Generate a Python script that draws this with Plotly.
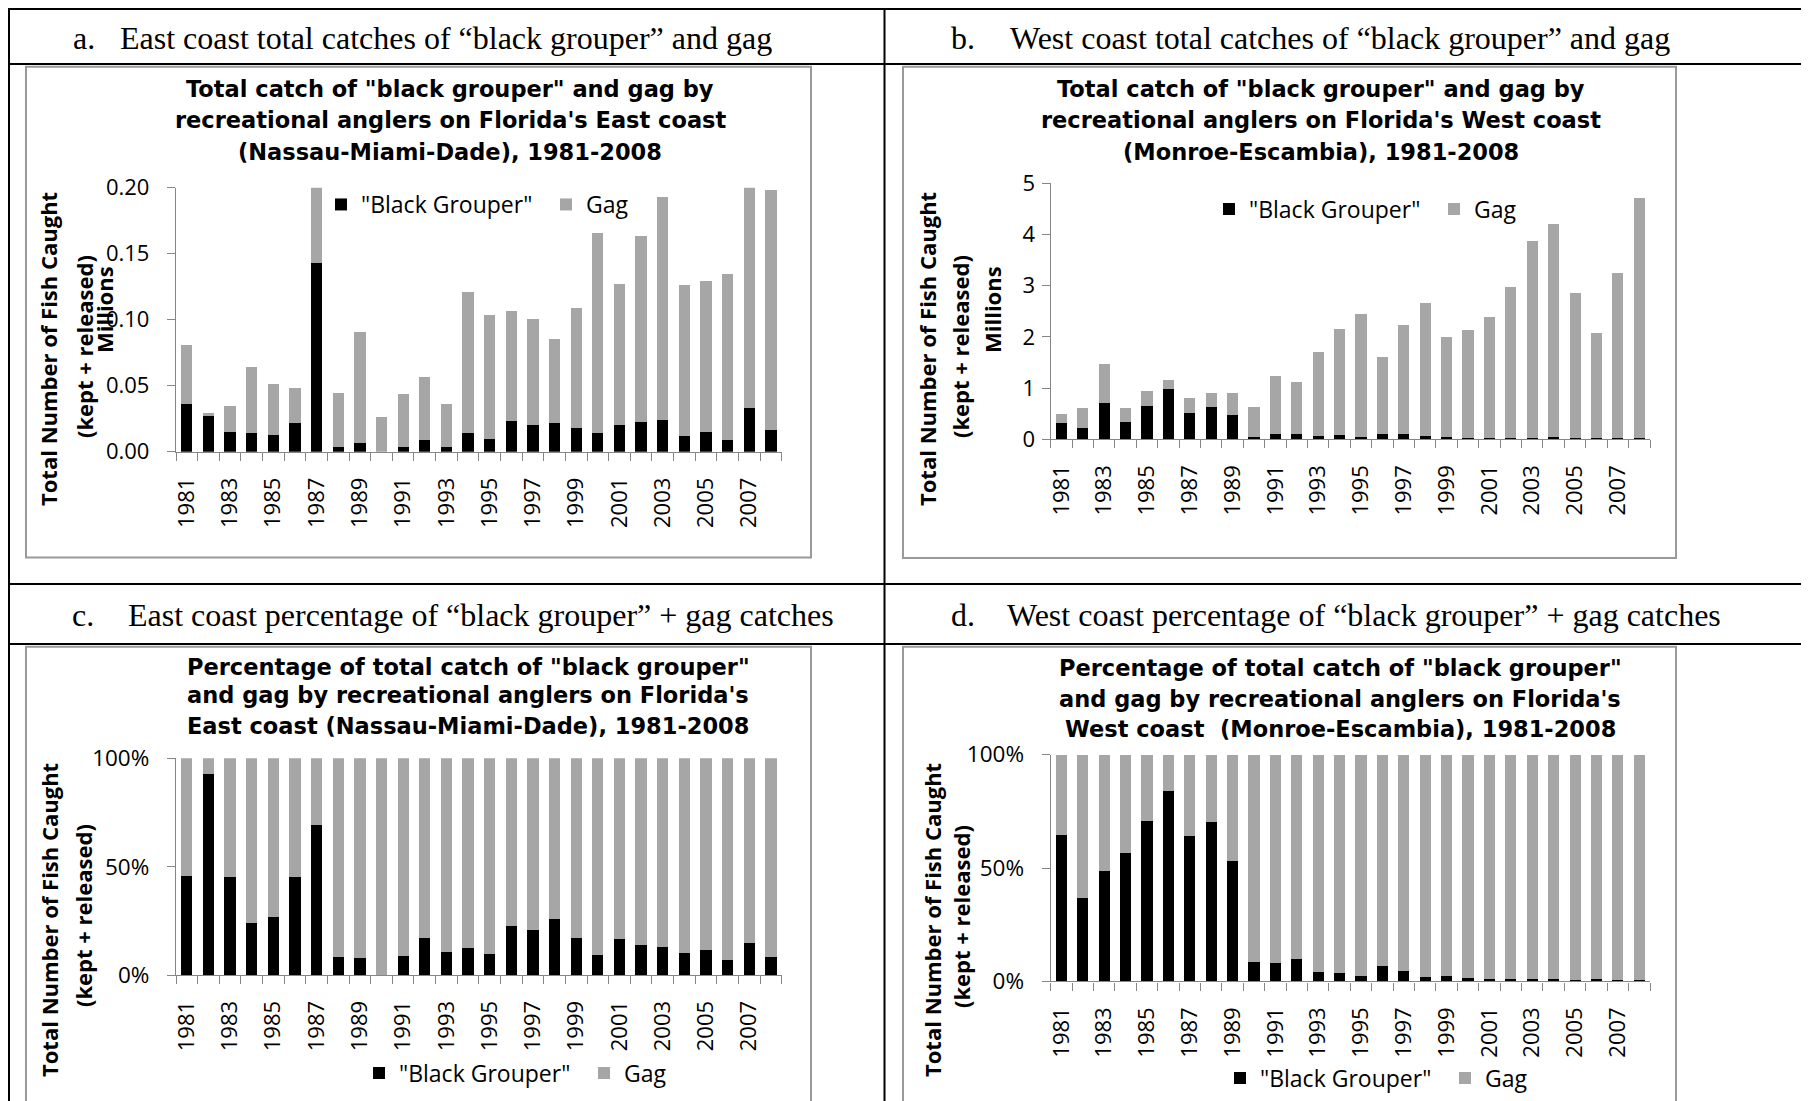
import plotly.graph_objects as go

# ---------------- data ----------------
YEARS = [1981, 1982, 1983, 1984, 1985, 1986, 1987, 1988, 1989, 1990,
         1991, 1992, 1993, 1994, 1995, 1996, 1997, 1998, 1999, 2000,
         2001, 2002, 2003, 2004, 2005, 2006, 2007, 2008]
YEAR_TICKS = [1981, 1983, 1985, 1987, 1989, 1991, 1993, 1995, 1997, 1999,
              2001, 2003, 2005, 2007]
SERIES_NAMES = ['"Black Grouper"', 'Gag']

# East coast totals (millions of fish)
EAST_BLACK = [0.0361, 0.0270, 0.0152, 0.0144, 0.0126, 0.0215, 0.1432, 0.0036, 0.0068, 0.0,
              0.0037, 0.0092, 0.0038, 0.0143, 0.0094, 0.0232, 0.0203, 0.0218, 0.0180, 0.0142,
              0.0204, 0.0226, 0.0240, 0.0120, 0.0148, 0.0092, 0.0330, 0.0162]
EAST_GAG = [0.0447, 0.0020, 0.0194, 0.0495, 0.0387, 0.0270, 0.0638, 0.0411, 0.0839, 0.0260,
            0.0402, 0.0476, 0.0321, 0.1064, 0.0944, 0.0834, 0.0801, 0.0638, 0.0908, 0.1518,
            0.1069, 0.1407, 0.1690, 0.1142, 0.1142, 0.1254, 0.1980, 0.1824]

# West coast totals (millions of fish)
WEST_BLACK = [0.326, 0.215, 0.703, 0.345, 0.658, 0.977, 0.523, 0.638, 0.477, 0.054,
              0.098, 0.113, 0.072, 0.080, 0.054, 0.113, 0.107, 0.056, 0.050, 0.032,
              0.021, 0.027, 0.035, 0.042, 0.017, 0.021, 0.020, 0.021]
WEST_GAG = [0.169, 0.390, 0.768, 0.260, 0.286, 0.182, 0.292, 0.272, 0.426, 0.581,
            1.137, 1.012, 1.633, 2.070, 2.401, 1.497, 2.118, 2.599, 1.940, 2.098,
            2.369, 2.948, 3.835, 4.158, 2.843, 2.059, 3.230, 4.689]

# Percentages
EAST_BLACK_PCT = [45.5, 92.6, 45.2, 23.8, 26.6, 45.3, 69.4, 8.3, 8.0, 0.0,
                  8.8, 17.2, 10.8, 12.6, 9.8, 22.5, 20.8, 26.0, 17.2, 9.1,
                  16.6, 14.0, 12.8, 10.2, 11.7, 6.9, 14.7, 8.4]
EAST_GAG_PCT = [54.5, 7.4, 54.8, 76.2, 73.4, 54.7, 30.6, 91.7, 92.0, 100.0,
                91.2, 82.8, 89.2, 87.4, 90.2, 77.5, 79.2, 74.0, 82.8, 90.9,
                83.4, 86.0, 87.2, 89.8, 88.3, 93.1, 85.3, 91.6]
WEST_BLACK_PCT = [64.6, 36.6, 48.5, 56.7, 70.9, 83.9, 64.2, 70.4, 53.0, 8.5,
                  7.9, 10.0, 4.2, 3.7, 2.2, 7.0, 4.8, 2.1, 2.5, 1.5,
                  0.9, 0.9, 0.9, 1.0, 0.6, 1.0, 0.6, 0.45]
WEST_GAG_PCT = [35.4, 63.4, 51.5, 43.3, 29.1, 16.1, 35.8, 29.6, 47.0, 91.5,
                92.1, 90.0, 95.8, 96.3, 97.8, 93.0, 95.2, 97.9, 97.5, 98.5,
                99.1, 99.1, 99.1, 99.0, 99.4, 99.0, 99.4, 99.55]

EAST_TICKS = [0.00, 0.05, 0.10, 0.15, 0.20]
EAST_TICK_TEXT = ['0.00', '0.05', '0.10', '0.15', '0.20']
WEST_TICKS = [0, 1, 2, 3, 4, 5]
WEST_TICK_TEXT = ['0', '1', '2', '3', '4', '5']
PCT_TICKS = [0, 50, 100]
PCT_TICK_TEXT = ['0%', '50%', '100%']

CAPTIONS = [
    ('a.', 'East coast total catches of \u201cblack grouper\u201d and gag'),
    ('b.', 'West coast total catches of \u201cblack grouper\u201d and gag'),
    ('c.', 'East coast percentage of \u201cblack grouper\u201d + gag catches'),
    ('d.', 'West coast percentage of \u201cblack grouper\u201d + gag catches'),
]
TITLES = [
    ['Total catch of "black grouper" and gag by',
     "recreational anglers on Florida's East coast",
     '(Nassau-Miami-Dade), 1981-2008'],
    ['Total catch of "black grouper" and gag by',
     "recreational anglers on Florida's West coast",
     '(Monroe-Escambia), 1981-2008'],
    ['Percentage of total catch of "black grouper"',
     "and gag by recreational anglers on Florida's",
     'East coast (Nassau-Miami-Dade), 1981-2008'],
    ['Percentage of total catch of "black grouper"',
     "and gag by recreational anglers on Florida's",
     'West coast  (Monroe-Escambia), 1981-2008'],
]
YTITLE_1 = 'Total Number of Fish Caught'
YTITLE_2 = '(kept + released)'
YTITLE_UNITS = 'Millions'

# ---------------- layout helpers ----------------
# Positions below are given in page pixels of the 1809x1101 window; the page body
# has the browser's default 8px margin, so the figure is made 8px smaller.
OFF = 8
W, H = 1809 - OFF, 1101 - OFF
BLACK = '#000000'
GRAY = '#A6A6A6'
AXC = '#868686'
FRAME = '#9a9a9a'


def px(x):
    return (x - OFF) / W


def py(y):
    return 1 - (y - OFF) / H


fig = go.Figure()

panels = [
    dict(xa='x', ya='y', leg='legend', data=(EAST_BLACK, EAST_GAG)),
    dict(xa='x2', ya='y2', leg='legend2', data=(WEST_BLACK, WEST_GAG)),
    dict(xa='x3', ya='y3', leg='legend3', data=(EAST_BLACK_PCT, EAST_GAG_PCT)),
    dict(xa='x4', ya='y4', leg='legend4', data=(WEST_BLACK_PCT, WEST_GAG_PCT)),
]
for p in panels:
    for name, vals, col in zip(SERIES_NAMES, p['data'], [BLACK, GRAY]):
        fig.add_trace(go.Bar(x=YEARS, y=vals, name=name, marker_color=col,
                             marker_line_width=0, xaxis=p['xa'], yaxis=p['ya'],
                             legend=p['leg'], hoverinfo='x+y+name'))

tickfont = dict(family='Open Sans', size=22, color='black')


def xaxis(x0, x1, anchor):
    return dict(domain=[px(x0), px(x1)], anchor=anchor, range=[1980.5, 2008.5],
                tickmode='array', tickvals=YEAR_TICKS, ticktext=[str(v) for v in YEAR_TICKS],
                tickangle=-90, ticks='', showline=True, linecolor=AXC, linewidth=1.3,
                showgrid=False, zeroline=False, tickfont=tickfont, ticklabelstandoff=16,
                minor=dict(ticks='outside', ticklen=8, tickcolor=AXC, tickwidth=1.3,
                           tick0=1980.5, dtick=1, showgrid=False),
                fixedrange=True, automargin=False)


def yaxis(y_bottom, y_top, anchor, rng, tv, tt, font, standoff):
    return dict(domain=[py(y_bottom), py(y_top)], anchor=anchor, range=rng,
                tickmode='array', tickvals=tv, ticktext=tt, ticks='outside', ticklen=8,
                tickcolor=AXC, tickwidth=1.3, showline=True, linecolor=AXC, linewidth=1.3,
                showgrid=False, zeroline=False, tickfont=font, ticklabelstandoff=standoff,
                fixedrange=True, automargin=False)


pct_tick = dict(family='Open Sans', size=22.5, color='black')

leg_common = dict(orientation='h', xanchor='left', yanchor='middle',
                  font=dict(family='Open Sans', size=23, color='black'),
                  bgcolor='rgba(0,0,0,0)', borderwidth=0, traceorder='normal',
                  entrywidth=180, entrywidthmode='pixels')

fig.update_layout(
    width=W, height=H, margin=dict(l=0, r=0, t=0, b=0, pad=0, autoexpand=False),
    paper_bgcolor='white', plot_bgcolor='white',
    barmode='stack', bargap=0.48,
    xaxis=xaxis(176, 781.7, 'y'),
    xaxis2=xaxis(1050.7, 1650, 'y2'),
    xaxis3=xaxis(176, 781.7, 'y3'),
    xaxis4=xaxis(1050.7, 1650, 'y4'),
    yaxis=yaxis(451.7, 187.7, 'x', [0, 0.2], EAST_TICKS, EAST_TICK_TEXT, tickfont, 13),
    yaxis2=yaxis(439.3, 183.3, 'x2', [0, 5], WEST_TICKS, WEST_TICK_TEXT, tickfont, 2),
    yaxis3=yaxis(975, 758.3, 'x3', [0, 100], PCT_TICKS, PCT_TICK_TEXT, pct_tick, 13),
    yaxis4=yaxis(981.4, 754.6, 'x4', [0, 100], PCT_TICKS, PCT_TICK_TEXT, pct_tick, 13),
    legend=dict(x=px(321), y=py(204.5), **leg_common),
    legend2=dict(x=px(1209), y=py(209), **leg_common),
    legend3=dict(x=px(359), y=py(1073), **leg_common),
    legend4=dict(x=px(1220), y=py(1078), **leg_common),
)

shapes = []


def line(x0, y0, x1, y1, color=BLACK, width=2):
    shapes.append(dict(type='line', xref='paper', yref='paper', x0=px(x0), y0=py(y0),
                       x1=px(x1), y1=py(y1), line=dict(color=color, width=width)))


# table grid
line(9, 9, 1805, 9)
line(9, 8, 9, 1110)
line(1805, 8, 1805, 1110)
line(884.5, 8, 884.5, 1110)
line(9, 64, 1805, 64)
line(9, 584, 1805, 584)
line(9, 644, 1805, 644)

# chart frames
for (x0, y0, x1, y1) in [(26, 66.7, 811, 557.5), (903, 66.7, 1676, 558),
                         (26, 646.7, 811, 1130), (903, 646.7, 1676, 1130)]:
    shapes.append(dict(type='rect', xref='paper', yref='paper', x0=px(x0), y0=py(y0),
                       x1=px(x1), y1=py(y1), line=dict(color=FRAME, width=2),
                       fillcolor='rgba(0,0,0,0)'))

annotations = []


def text(x, y, s, font, xanchor='left', yanchor='middle', angle=0):
    annotations.append(dict(x=px(x), y=py(y), xref='paper', yref='paper', text=s,
                            showarrow=False, xanchor=xanchor, yanchor=yanchor,
                            textangle=angle, font=font))


cap_font = dict(family='Liberation Serif', size=32, color='black')
cap_pos = [(70.7, 118, 38), (949.4, 1007.6, 38), (70, 126, 615), (949.4, 1004.7, 615)]
for (lab, s), (xl, xt, yc) in zip(CAPTIONS, cap_pos):
    text(xl, yc, lab, cap_font)
    text(xt, yc, s, cap_font)

title_font = dict(family='DejaVu Sans', size=22.5, color='black', weight='bold')
title_pos = [(450, [88.8, 120, 151.7]), (1321, [88.8, 120, 151.7]),
             (468, [666.5, 695.3, 725.8]), (1340, [668, 698.7, 729])]
for lines, (xc, ys) in zip(TITLES, title_pos):
    for s, yc in zip(lines, ys):
        text(xc, yc, s, title_font, xanchor='center')

ytitle_font = dict(family='Open Sans', size=22, color='black', weight='bold')
ytitle_pos = [(48, 349, 84, 347, 104, 310), (927, 349, 960, 347, 992, 309),
              (49, 920, 83, 916, None, None), (932, 920, 961, 917, None, None)]
for (x1, y1, x2, y2, x3, y3) in ytitle_pos:
    text(x1, y1, YTITLE_1, ytitle_font, xanchor='center', angle=-90)
    text(x2, y2, YTITLE_2, ytitle_font, xanchor='center', angle=-90)
    if x3 is not None:
        text(x3, y3, YTITLE_UNITS, ytitle_font, xanchor='center', angle=-90)

fig.update_layout(shapes=shapes, annotations=annotations)

fig.write_html('out.html')
